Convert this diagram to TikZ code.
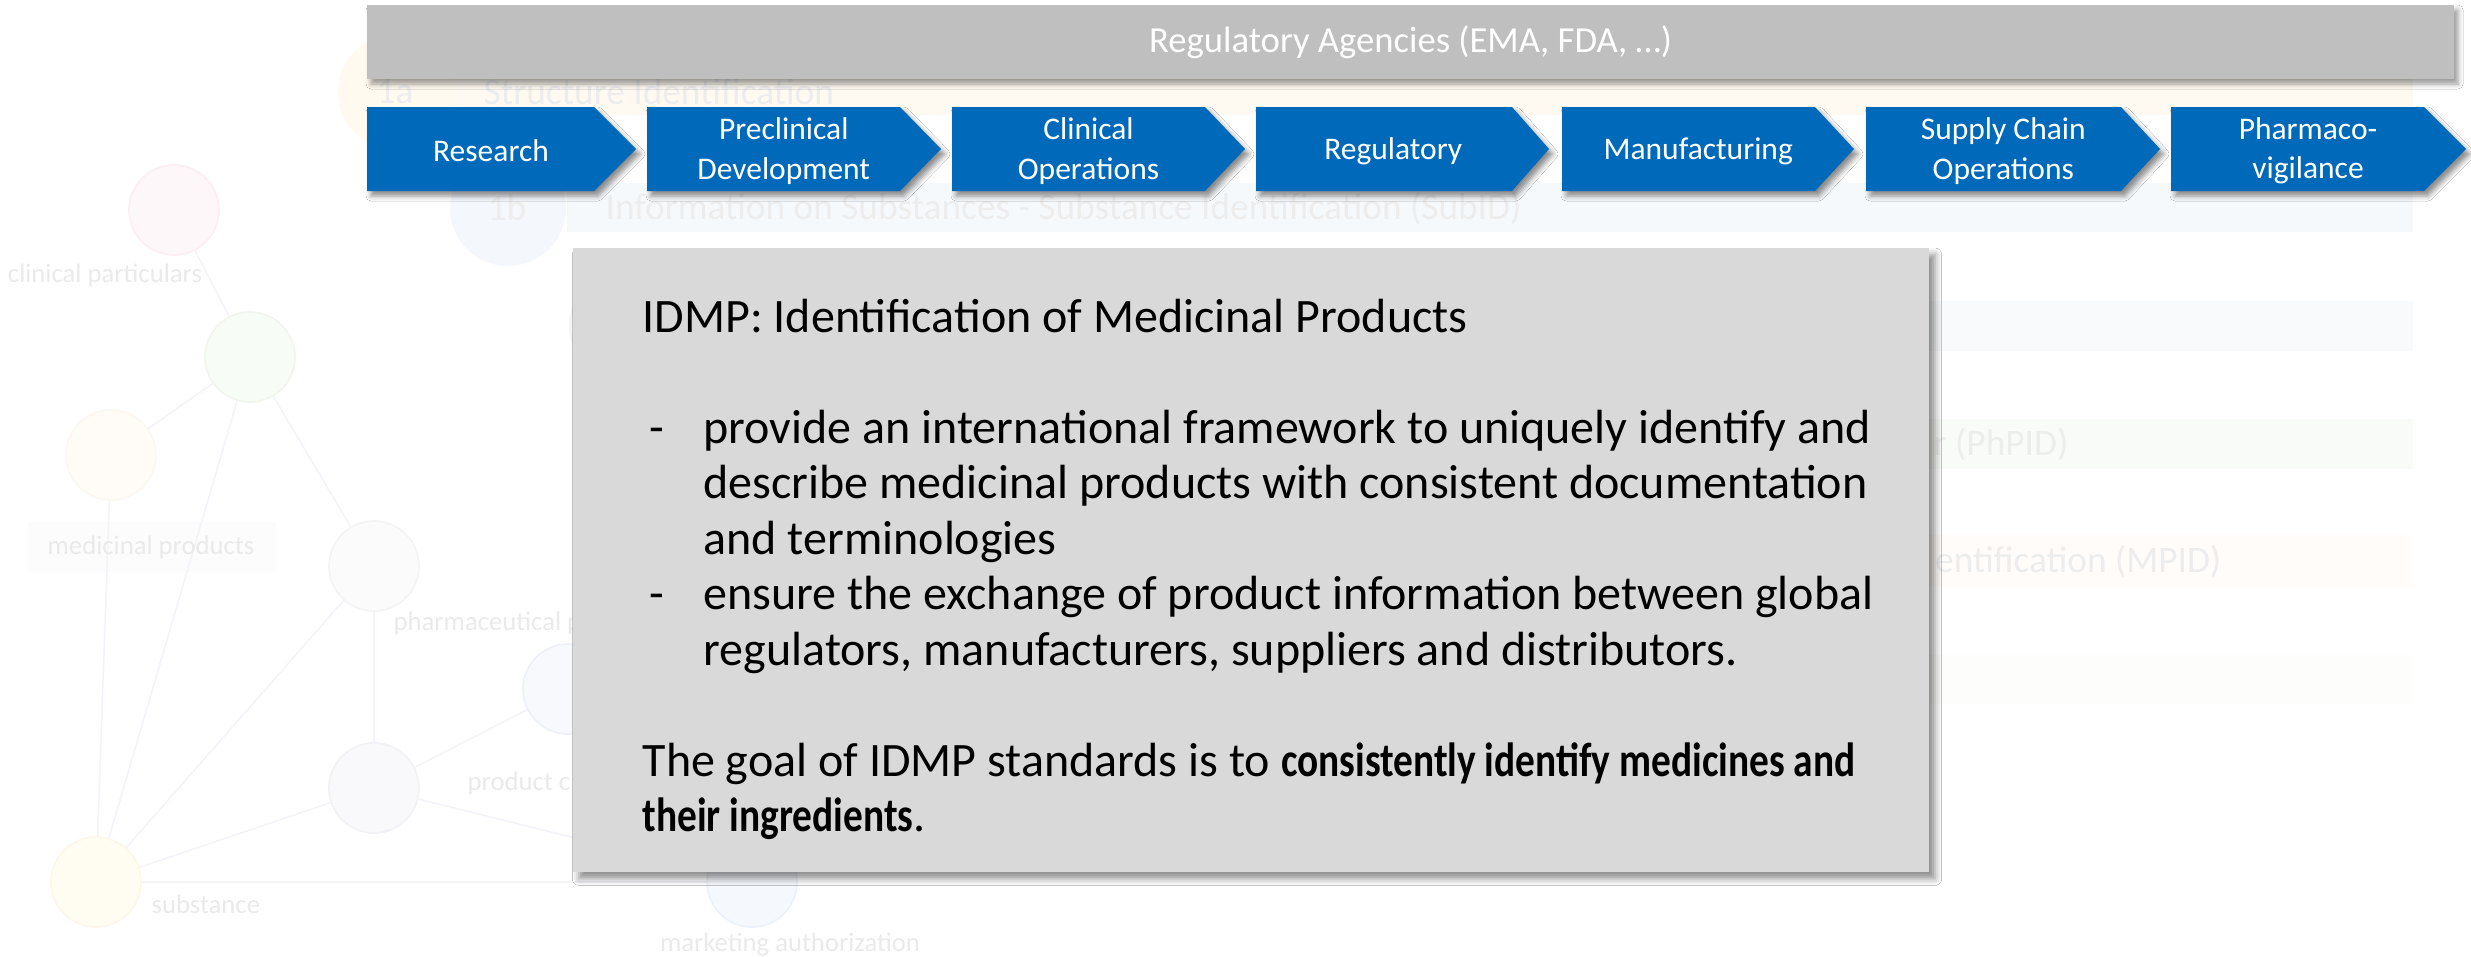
\documentclass[tikz,border=0pt]{standalone}
\usepackage{fontspec}
\setmainfont{Carlito}[BoldFeatures={FakeStretch=0.82}]
\usepackage{tikz}
\usetikzlibrary{positioning, shapes, calc, shadows, shadows.blur}

\definecolor{agencygray}{HTML}{BFBFBF}
\definecolor{phaseblue}{HTML}{0069BA}
\definecolor{infogray}{HTML}{D9D9D9}
\definecolor{ghostline}{HTML}{F3F3F9}
\definecolor{ghosttext}{HTML}{EAEAEA}
\definecolor{rowtext}{HTML}{EDEDED}
\definecolor{creambar}{HTML}{FEFAF2}
\definecolor{creamdot}{HTML}{FFFAEF}
\definecolor{bluebar}{HTML}{F6F9FC}
\definecolor{bluedot}{HTML}{F4F7FB}
\definecolor{graybar}{HTML}{F9FAFB}
\definecolor{greenbar}{HTML}{F9FBF8}
\definecolor{peachbar}{HTML}{FFFCFA}
\definecolor{palebar}{HTML}{FDFDFC}
\definecolor{labelbox}{HTML}{FCFCFC}

\tikzset{
	phase/.style={fill=phaseblue, blur shadow={shadow xshift=1.2pt, shadow yshift=-1.5pt, shadow blur radius=1.5pt, shadow opacity=45}},
	phasetext/.style={text=white, align=center, inner sep=0pt, font=\fontsize{9.45}{11.8}\selectfont},
	agencybar/.style={fill=agencygray, text=white, minimum width=626.1pt, minimum height=22.2pt, inner sep=0pt, font=\fontsize{11}{13}\selectfont, blur shadow={shadow xshift=1.2pt, shadow yshift=-1.5pt, shadow blur radius=1.5pt, shadow opacity=40}},
	infobox/.style={fill=infogray, minimum width=406.8pt, minimum height=187.2pt, inner sep=0pt, blur shadow={shadow xshift=1.8pt, shadow yshift=-2pt, shadow blur radius=2pt, shadow opacity=45}},
	infoline/.style={anchor=base west, inner sep=0pt, font=\fontsize{14.4}{17}\selectfont},
	rowdot/.style={circle, minimum size=34.8pt, inner sep=0pt},
	rowlabel/.style={text=rowtext, inner sep=0pt, font=\fontsize{11.2}{13}\selectfont},
	ghostdot/.style={circle, minimum size=27pt, inner sep=0pt, line width=0.5pt},
	ghostlabel/.style={text=ghosttext, inner sep=0pt, font=\fontsize{8}{9.6}\selectfont},
	ghostedge/.style={draw=ghostline, line width=0.45pt}
}

\begin{document}
\begin{tikzpicture}[x=0.3pt, y=-0.3pt]
	\fill[white] (0,0) rectangle (2471,957);
	\useasboundingbox (0,0) rectangle (2471,957);
	
	% faded slide behind
	\fill[creambar] (452,65) rectangle (2413,115);
	\fill[bluebar] (567,183) rectangle (2413,232);
	\fill[graybar] (640,301) rectangle (2413,351);
	\fill[greenbar] (760,419) rectangle (2413,469);
	\fill[peachbar] (870,535) rectangle (2413,587);
	\fill[palebar] (980,655) rectangle (2413,704);
	\draw[ghostline, line width=0.5pt] (452,82) -- (452,106);
	
	\node[rowdot, fill=creamdot] (dota) at (396,92) {};
	\node[rowdot, fill=bluedot] (dotb) at (508,208) {};
	\node[rowdot, fill=graybar, draw=ghostline, line width=0.5pt] (dotc) at (628,326) {};
	
	\node[rowlabel] (numa) at (395,92) {1a};
	\node[rowlabel, anchor=west] (rowa) at (483,92) {Structure Identification};
	\node[rowlabel] (numb) at (507,208) {1b};
	\node[rowlabel, anchor=west] (rowb) at (605,208) {Information on Substances - Substance Identification (SubID)};
	\node[rowlabel, anchor=east] (rowd) at (2069,444) {r (PhPID)};
	\node[rowlabel, anchor=east] (rowe) at (2222,561) {entification (MPID)};
	
	\fill[labelbox] (28,522) rectangle (276,572);
	
	\node[ghostdot, fill={rgb,255:red,254;green,247;blue,250}, draw={rgb,255:red,252;green,238;blue,243}] (clin) at (174,210) {};
	\node[ghostdot, fill={rgb,255:red,248;green,252;blue,247}, draw={rgb,255:red,240;green,246;blue,238}] (hub) at (250,357) {};
	\node[ghostdot, fill={rgb,255:red,255;green,252;blue,248}, draw={rgb,255:red,253;green,247;blue,241}] (medi) at (111,455) {};
	\node[ghostdot, fill={rgb,255:red,251;green,251;blue,251}, draw={rgb,255:red,244;green,244;blue,245}] (pharm) at (374,566) {};
	\node[ghostdot, fill={rgb,255:red,247;green,249;blue,252}, draw={rgb,255:red,237;green,240;blue,247}] (prodc) at (568,689) {};
	\node[ghostdot, fill={rgb,255:red,249;green,249;blue,252}, draw={rgb,255:red,241;green,241;blue,246}] (prod) at (374,788) {};
	\node[ghostdot, fill={rgb,255:red,255;green,252;blue,242}, draw={rgb,255:red,252;green,247;blue,231}] (subst) at (96,882) {};
	\node[ghostdot, fill={rgb,255:red,245;green,248;blue,252}, draw={rgb,255:red,236;green,242;blue,249}] (auth) at (752,882) {};
	
	\draw[ghostedge] (clin) -- (hub);
	\draw[ghostedge] (hub) -- (medi);
	\draw[ghostedge] (hub) -- (subst);
	\draw[ghostedge] (hub) -- (pharm);
	\draw[ghostedge] (medi) -- (subst);
	\draw[ghostedge] (pharm) -- (subst);
	\draw[ghostedge] (pharm) -- (prod);
	\draw[ghostedge] (subst) -- (prod);
	\draw[ghostedge] (prod) -- (prodc);
	\draw[ghostedge] (prod) -- (auth);
	\draw[ghostedge] (subst) -- (auth);
	
	\node[ghostlabel] (clinlabel) at (105,275) {clinical particulars};
	\node[ghostlabel] (medilabel) at (151,547) {medicinal products};
	\node[ghostlabel, anchor=west] (pharmlabel) at (393,623) {pharmaceutical p};
	\node[ghostlabel, anchor=west] (prodlabel) at (467,783) {product c};
	\node[ghostlabel, anchor=west] (substlabel) at (151,904) {substance};
	\node[ghostlabel] (authlabel) at (790,945) {marketing authorization};
	
	% agencies and value chain
	\node[agencybar] (agencies) at (1410.5,42) {Regulatory Agencies (EMA, FDA, …)};
	
	\foreach \xa/\xb/\xt/\nm/\txt in {
		367/594/636/research/Research,
		647/900/941/preclinical/{Preclinical\\Development},
		952/1205/1245/clinical/{Clinical\\Operations},
		1256/1512/1549/regulatory/Regulatory,
		1562/1815/1854/manufacturing/Manufacturing,
		1866/2121/2160/supply/{Supply Chain\\Operations},
		2171/2424/2466/pharmaco/{Pharmaco-\\vigilance}}
	{
		\fill[phase] (\xa,107) -- (\xb,107) -- (\xt,149) -- (\xb,191) -- (\xa,191) -- cycle;
		\node[phasetext] (\nm) at ({(2*\xa+\xb+\xt)/4},151) {\txt};
	}
	
	% IDMP box
	\node[infobox] (idmpbox) at (1251,560) {};
	\node[infoline] (title) at (642,332) {IDMP: Identification of Medicinal Products};
	\node[infoline] (dasha) at (649,443) {-};
	\node[infoline] (linea) at (703,443) {provide an international framework to uniquely identify and};
	\node[infoline] (lineb) at (703,498.5) {describe medicinal products with consistent documentation};
	\node[infoline] (linec) at (703,554) {and terminologies};
	\node[infoline] (dashb) at (649,609.5) {-};
	\node[infoline] (lined) at (703,609.5) {ensure the exchange of product information between global};
	\node[infoline] (linee) at (703,665) {regulators, manufacturers, suppliers and distributors.};
	\node[infoline] (goala) at (642,776) {The goal of IDMP standards is to \textbf{consistently identify medicines and}};
	\node[infoline] (goalb) at (642,831.5) {\textbf{their ingredients}.};
\end{tikzpicture}
\end{document}
